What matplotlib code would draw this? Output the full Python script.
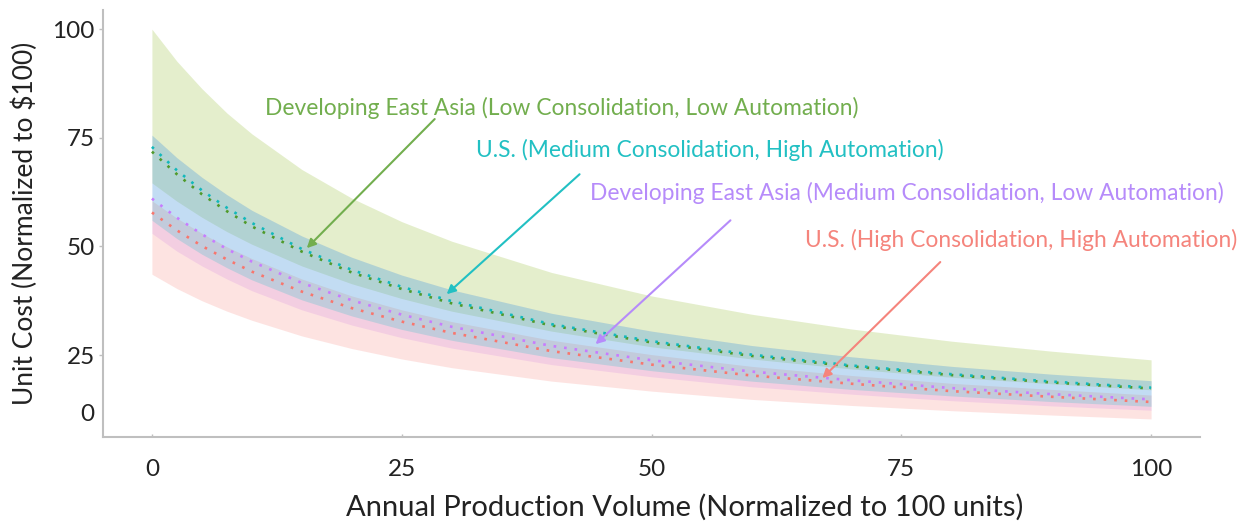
import matplotlib
matplotlib.use("Agg")
import matplotlib.pyplot as plt

plt.rcParams['font.family'] = ['Lato', 'DejaVu Sans']

# Annual production volume (normalized to 100 units)
volume = [0, 2.5, 5, 7.5, 10, 15, 20, 25, 30, 40, 50, 60, 70, 80, 90, 100]

# Central unit-cost curves (normalized to $100)
us_medium = [72.9, 67.5, 62.9, 58.9, 55.4, 49.4, 44.6, 40.7, 37.4, 32.1, 28.2, 25.1, 22.6, 20.6, 18.9, 17.5]
dea_low = [71.8, 66.6, 62.0, 58.1, 54.6, 48.8, 44.0, 40.2, 36.9, 31.8, 27.9, 24.8, 22.4, 20.4, 18.7, 17.3]
dea_medium = [61.0, 56.6, 52.8, 49.4, 46.5, 41.6, 37.6, 34.3, 31.5, 27.1, 23.8, 21.2, 19.2, 17.4, 16.0, 14.8]
us_high = [57.8, 53.7, 50.1, 47.0, 44.2, 39.6, 35.8, 32.7, 30.1, 25.9, 22.8, 20.3, 18.4, 16.7, 15.4, 14.2]

# Uncertainty ranges around each curve
dea_low_upper = [100.0, 92.6, 86.3, 80.7, 75.9, 67.7, 61.1, 55.7, 51.2, 44.0, 38.6, 34.4, 31.0, 28.2, 25.9, 23.9]
dea_low_lower = [64.6, 60.4, 56.7, 53.4, 50.5, 45.5, 41.4, 38.0, 35.1, 30.5, 26.9, 24.1, 21.8, 19.9, 18.4, 17.0]
us_medium_upper = [75.6, 70.4, 65.9, 61.9, 58.3, 52.4, 47.5, 43.4, 40.0, 34.6, 30.5, 27.2, 24.6, 22.4, 20.6, 19.1]
us_medium_lower = [56.0, 51.8, 48.2, 45.1, 42.3, 37.7, 34.0, 30.9, 28.4, 24.4, 21.4, 19.0, 17.1, 15.6, 14.3, 13.2]
dea_medium_upper = [75.6, 70.4, 65.9, 61.9, 58.3, 52.4, 47.5, 43.4, 40.0, 34.6, 30.5, 27.2, 24.6, 22.4, 20.6, 19.1]
dea_medium_lower = [53.0, 48.9, 45.5, 42.5, 39.8, 35.4, 31.9, 29.0, 26.6, 22.8, 20.0, 17.7, 16.0, 14.5, 13.3, 12.3]
us_high_upper = [60.5, 56.5, 53.0, 49.9, 47.2, 42.5, 38.6, 35.4, 32.7, 28.4, 25.1, 22.4, 20.3, 18.5, 17.1, 15.8]
us_high_lower = [43.6, 40.3, 37.5, 35.1, 33.0, 29.4, 26.5, 24.1, 22.1, 19.0, 16.7, 14.8, 13.4, 12.2, 11.2, 10.3]

labels = [
    "Developing East Asia (Low Consolidation, Low Automation)",
    "U.S. (Medium Consolidation, High Automation)",
    "Developing East Asia (Medium Consolidation, Low Automation)",
    "U.S. (High Consolidation, High Automation)",
]

x_ticks = [0, 25, 50, 75, 100]
y_ticks = [11.7, 25, 50, 75, 100]
y_tick_labels = ["0", "25", "50", "75", "100"]

RED, GREEN, CYAN, PURPLE = "#F8766D", "#7CAE00", "#00BFC4", "#C77CFF"
TEXT_COLORS = ["#72AE4E", "#22C0C3", "#B68BFA", "#F5847C"]

fig = plt.figure(figsize=(12.45, 5.25), dpi=100)
ax = fig.add_axes([0.0827, 0.1676, 0.8812, 0.8134])

# shaded ranges
ax.fill_between(volume, dea_low_lower, dea_low_upper, color=GREEN, alpha=0.2, lw=0)
ax.fill_between(volume, dea_medium_lower, dea_medium_upper, color=PURPLE, alpha=0.2, lw=0)
ax.fill_between(volume, us_high_lower, us_high_upper, color=RED, alpha=0.2, lw=0)
ax.fill_between(volume, us_medium_lower, us_medium_upper, color=CYAN, alpha=0.2, lw=0)

# dotted central curves
dot = (0, (1, 3))
ax.plot(volume, us_high, color=RED, lw=1.9, linestyle=dot)
ax.plot(volume, dea_medium, color=PURPLE, lw=1.9, linestyle=dot)
ax.plot(volume, dea_low, color="#4F9A2A", lw=1.9, linestyle=dot)
ax.plot(volume, us_medium, color="#12B8BB", lw=1.9, linestyle=dot)

# callouts
text_pos = [(11.3, 81.8), (32.4, 72.2), (43.8, 62.3), (65.4, 51.5)]
arrow_from = [(28.3, 79.3), (42.8, 66.6), (57.9, 56.0), (78.9, 46.4)]
arrow_to = [(15.5, 49.6), (29.5, 39.0), (44.4, 27.5), (67.1, 19.7)]
for lab, col, tp, af, at in zip(labels, TEXT_COLORS, text_pos, arrow_from, arrow_to):
    ax.text(tp[0], tp[1], lab, color=col, fontsize=16.4, ha="left", va="center")
    ax.annotate("", xy=at, xytext=af,
                arrowprops=dict(arrowstyle="-|>", color=col, lw=1.5,
                                mutation_scale=13, shrinkA=0, shrinkB=0))

ax.set_xlim(-4.9, 104.9)
ax.set_ylim(6.14, 104.4)
ax.set_xticks(x_ticks)
ax.set_xticklabels([str(v) for v in x_ticks])
ax.set_yticks(y_ticks)
ax.set_yticklabels(y_tick_labels)
ax.yaxis.get_major_ticks()[0].tick1line.set_visible(False)

for side in ("top", "right"):
    ax.spines[side].set_visible(False)
for side in ("left", "bottom"):
    ax.spines[side].set_color("#BFBFBF")
    ax.spines[side].set_linewidth(1.5)

ax.tick_params(axis="y", length=3, width=1, color="#BFBFBF", labelsize=17.5,
               labelcolor="#222222", pad=3)
ax.tick_params(axis="x", length=2, width=1, color="#BFBFBF", labelsize=17.5,
               labelcolor="#222222", pad=16, direction="in")

ax.set_xlabel("Annual Production Volume (Normalized to 100 units)", fontsize=21,
              color="#222222")
ax.xaxis.set_label_coords(0.5306, -0.132)
ax.set_ylabel("Unit Cost (Normalized to $100)", fontsize=19, color="#222222",
              labelpad=10)

fig.savefig("out.png", dpi=100)
